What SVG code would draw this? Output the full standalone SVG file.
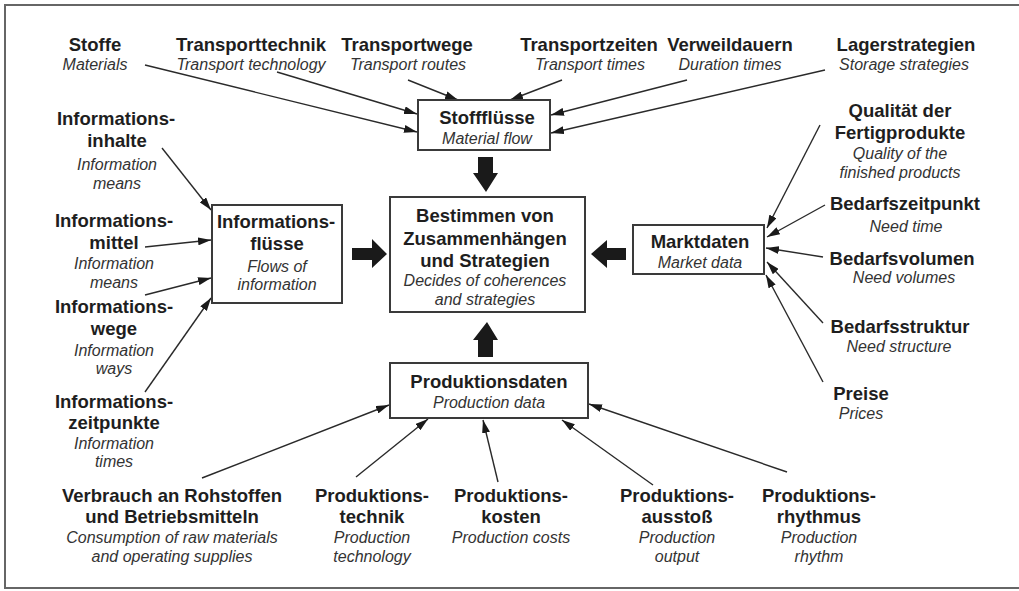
<svg xmlns="http://www.w3.org/2000/svg" width="1019" height="591" viewBox="0 0 1019 591">
<style>
.b{font-family:"Liberation Sans",Arial,sans-serif;font-weight:bold;font-size:18.5px;fill:#1e1e1e;text-anchor:middle}
.i{font-family:"Liberation Sans",Arial,sans-serif;font-style:italic;font-size:16px;fill:#333;text-anchor:middle}
.box{fill:#fff;stroke:#3a3a3a;stroke-width:2}
.c{stroke:#2a2a2a;stroke-width:1.4;fill:none;marker-end:url(#ah)}
.blk{fill:#1a1a1a}
</style>
<defs>
<marker id="ah" viewBox="0 0 13 8" refX="13" refY="4" markerWidth="13" markerHeight="8" markerUnits="userSpaceOnUse" orient="auto">
<path d="M0,0 L13,4 L0,8 z" fill="#1a1a1a"/>
</marker>
</defs>
<rect x="0" y="0" width="1019" height="591" fill="#fff"/>
<rect x="5" y="5" width="1030" height="583" fill="none" stroke="#666" stroke-width="2"/>

<g id="connectors">
<line class="c" x1="145" y1="65" x2="417" y2="132"/>
<line class="c" x1="277" y1="72" x2="417" y2="114"/>
<line class="c" x1="408" y1="80" x2="458" y2="100"/>
<line class="c" x1="562" y1="80" x2="510" y2="100"/>
<line class="c" x1="687" y1="80" x2="551" y2="115"/>
<line class="c" x1="825" y1="70" x2="551" y2="133"/>
<line class="c" x1="162" y1="148" x2="211" y2="210"/>
<line class="c" x1="145" y1="247" x2="211" y2="240"/>
<line class="c" x1="145" y1="295" x2="211" y2="278"/>
<line class="c" x1="145" y1="392" x2="211" y2="298"/>
<line class="c" x1="820" y1="125" x2="767" y2="228"/>
<line class="c" x1="825" y1="205" x2="767" y2="237"/>
<line class="c" x1="823" y1="257" x2="766" y2="248"/>
<line class="c" x1="823" y1="323" x2="767" y2="262"/>
<line class="c" x1="823" y1="382" x2="766" y2="275"/>
<line class="c" x1="202" y1="478" x2="389" y2="405"/>
<line class="c" x1="356" y1="477" x2="428" y2="419"/>
<line class="c" x1="498" y1="482" x2="483" y2="420"/>
<line class="c" x1="653" y1="485" x2="562" y2="420"/>
<line class="c" x1="787" y1="472" x2="589" y2="404"/>
<polygon class="blk" points="478,157 493,157 493,173 498,173 486,192 473,173 478,173"/>
<polygon class="blk" points="478,357 493,357 493,340 498,340 487,322 473,340 478,340"/>
<polygon class="blk" points="352,248 372,248 372,239 387,254 372,268 372,260 352,260"/>
<polygon class="blk" points="626,248 607,248 607,240 591,254 607,268 607,260 626,260"/>
</g>

<g id="stofffluesse">
<rect class="box" x="418" y="100" width="132" height="50"/>
<text class="b" x="487" y="124">Stoffflüsse</text>
<text class="i" x="487" y="144">Material flow</text>
</g>
<g id="informationsfluesse">
<rect class="box" x="212" y="205" width="130" height="98"/>
<text class="b" x="276" y="228">Informations-</text>
<text class="b" x="277" y="250">flüsse</text>
<text class="i" x="277" y="272">Flows of</text>
<text class="i" x="277" y="290">information</text>
</g>
<g id="zentrum">
<rect class="box" x="390" y="197" width="195" height="115"/>
<text class="b" x="485" y="222">Bestimmen von</text>
<text class="b" x="485" y="245">Zusammenhängen</text>
<text class="b" x="485" y="267">und Strategien</text>
<text class="i" x="485" y="286">Decides of coherences</text>
<text class="i" x="485" y="305">and strategies</text>
</g>
<g id="marktdaten">
<rect class="box" x="633" y="225" width="131" height="49"/>
<text class="b" x="700" y="248">Marktdaten</text>
<text class="i" x="700" y="268">Market data</text>
</g>
<g id="produktionsdaten">
<rect class="box" x="390" y="363" width="198" height="55"/>
<text class="b" x="489" y="388">Produktionsdaten</text>
<text class="i" x="489" y="408">Production data</text>
</g>

<g id="stoffe"><text class="b" x="95" y="51">Stoffe</text><text class="i" x="95" y="70">Materials</text></g>
<g id="transporttechnik"><text class="b" x="251" y="51">Transporttechnik</text><text class="i" x="251" y="70">Transport technology</text></g>
<g id="transportwege"><text class="b" x="407" y="51">Transportwege</text><text class="i" x="408" y="70">Transport routes</text></g>
<g id="transportzeiten"><text class="b" x="589" y="51">Transportzeiten</text><text class="i" x="590" y="70">Transport times</text></g>
<g id="verweildauern"><text class="b" x="730" y="51">Verweildauern</text><text class="i" x="730" y="70">Duration times</text></g>
<g id="lagerstrategien"><text class="b" x="906" y="51">Lagerstrategien</text><text class="i" x="904" y="70">Storage strategies</text></g>

<g id="informationsinhalte"><text class="b" x="116" y="125">Informations-</text><text class="b" x="117" y="147">inhalte</text><text class="i" x="117" y="170">Information</text><text class="i" x="117" y="189">means</text></g>
<g id="informationsmittel"><text class="b" x="114" y="227">Informations-</text><text class="b" x="114" y="249">mittel</text><text class="i" x="114" y="269">Information</text><text class="i" x="114" y="288">means</text></g>
<g id="informationswege"><text class="b" x="114" y="313">Informations-</text><text class="b" x="114" y="335">wege</text><text class="i" x="114" y="356">Information</text><text class="i" x="114" y="374">ways</text></g>
<g id="informationszeitpunkte"><text class="b" x="114" y="408">Informations-</text><text class="b" x="114" y="429">zeitpunkte</text><text class="i" x="114" y="449">Information</text><text class="i" x="114" y="467">times</text></g>

<g id="qualitaet"><text class="b" x="900" y="117">Qualität der</text><text class="b" x="900" y="139">Fertigprodukte</text><text class="i" x="900" y="159">Quality of the</text><text class="i" x="900" y="178">finished products</text></g>
<g id="bedarfszeitpunkt"><text class="b" x="905" y="210">Bedarfszeitpunkt</text><text class="i" x="906" y="232">Need time</text></g>
<g id="bedarfsvolumen"><text class="b" x="902" y="265">Bedarfsvolumen</text><text class="i" x="904" y="283">Need volumes</text></g>
<g id="bedarfsstruktur"><text class="b" x="900" y="333">Bedarfsstruktur</text><text class="i" x="899" y="352">Need structure</text></g>
<g id="preise"><text class="b" x="861" y="400">Preise</text><text class="i" x="861" y="419">Prices</text></g>

<g id="verbrauch"><text class="b" x="172" y="502">Verbrauch an Rohstoffen</text><text class="b" x="172" y="523">und Betriebsmitteln</text><text class="i" x="172" y="543">Consumption of raw materials</text><text class="i" x="172" y="562">and operating supplies</text></g>
<g id="produktionstechnik"><text class="b" x="372" y="502">Produktions-</text><text class="b" x="372" y="523">technik</text><text class="i" x="372" y="543">Production</text><text class="i" x="372" y="562">technology</text></g>
<g id="produktionskosten"><text class="b" x="511" y="502">Produktions-</text><text class="b" x="511" y="523">kosten</text><text class="i" x="511" y="543">Production costs</text></g>
<g id="produktionsausstoss"><text class="b" x="677" y="502">Produktions-</text><text class="b" x="677" y="523">ausstoß</text><text class="i" x="677" y="543">Production</text><text class="i" x="677" y="562">output</text></g>
<g id="produktionsrhythmus"><text class="b" x="819" y="502">Produktions-</text><text class="b" x="819" y="523">rhythmus</text><text class="i" x="819" y="543">Production</text><text class="i" x="819" y="562">rhythm</text></g>
</svg>
